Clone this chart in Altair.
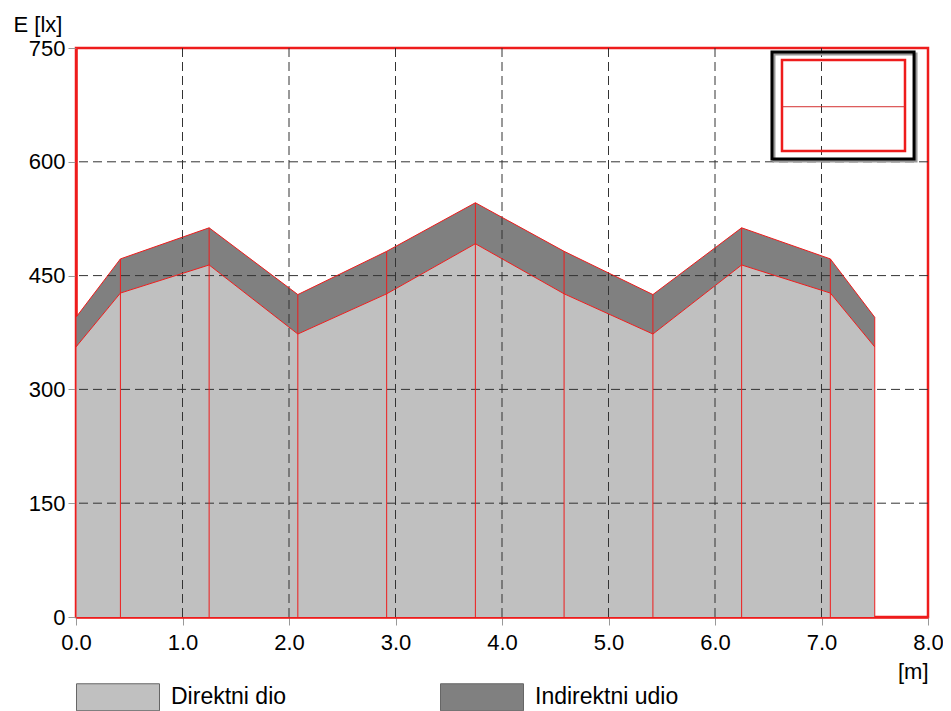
import altair as alt
import pandas as pd

# ---- data ----
x_m = [0.0, 0.417, 1.25, 2.083, 2.917, 3.75, 4.583, 5.417, 6.25, 7.083, 7.5]
direct = [356, 427, 464, 373, 426, 492, 426, 373, 464, 427, 356]
indirect = [39, 45, 49, 52, 56, 54, 56, 52, 49, 45, 39]
series = ["Direktni dio", "Indirektni udio"]
x_ticks = [0, 1, 2, 3, 4, 5, 6, 7, 8]
y_ticks = [0, 150, 300, 450, 600, 750]
x_grid = [1, 2, 3, 4, 5, 6, 7]
y_grid = [150, 300, 450, 600]

# room symbol (inset) in data units
inset_outer = {"x": [6.535], "x2": [7.869], "y": [603.7], "y2": [744.7]}
inset_inner = {"x": [6.629], "x2": [7.784], "y": [614.2], "y2": [734.2]}
inset_mid = {"x": [6.629], "x2": [7.784], "y": [672.6]}

RED = "#ee1c1c"
FONT = "Liberation Sans"

total = [d + i for d, i in zip(direct, indirect)]
df = pd.DataFrame({"x": x_m, "direct": direct, "total": total})
long_df = pd.concat([
    pd.DataFrame({"x": x_m, "series": series[0], "lo": [0] * len(x_m), "hi": direct}),
    pd.DataFrame({"x": x_m, "series": series[1], "lo": direct, "hi": total}),
])

xscale = alt.Scale(domain=[0, 8], nice=False)
yscale = alt.Scale(domain=[0, 750], nice=False)

xaxis = alt.Axis(values=x_ticks, format=".1f", title="[m]", grid=False,
                 titleAlign="right", titleX=852, titleY=61, titleBaseline="alphabetic",
                 labelPadding=7, labelFlush=False)
yaxis = alt.Axis(values=y_ticks, format="d", title="E [lx]", grid=False,
                 titleAngle=0, titleAlign="left", titleX=-63, titleY=-17,
                 titleBaseline="alphabetic", labelPadding=3)

color_scale = alt.Scale(domain=series, range=["#c0c0c0", "#808080"])
legend = alt.Legend(
    orient="none", legendX=0, legendY=607, direction="horizontal", title=None,
    symbolType="M-1,-0.325H1V0.325H-1Z", symbolSize=6889, symbolStrokeWidth=1,
    symbolStrokeColor="#666666", symbolOpacity=1, labelOffset=11, columnPadding=151, padding=0,
    labelFont=FONT, labelFontSize=23, labelColor="black",
)

areas = alt.Chart(long_df).mark_area(opacity=1).encode(
    x=alt.X("x:Q", scale=xscale, axis=xaxis),
    y=alt.Y("hi:Q", scale=yscale, axis=yaxis),
    y2="lo:Q",
    color=alt.Color("series:N", scale=color_scale, legend=legend),
)

base = alt.Chart(df)
grid_x = alt.Chart(pd.DataFrame({"g": x_grid})).mark_rule(
    color="#333333", strokeDash=[9, 5], strokeWidth=1
).encode(x="g:Q")
grid_y = alt.Chart(pd.DataFrame({"g": y_grid})).mark_rule(
    color="#333333", strokeDash=[9, 5], strokeWidth=1
).encode(y="g:Q")

line_total = base.mark_line(color=RED, strokeWidth=1).encode(x="x:Q", y="total:Q")
line_direct = base.mark_line(color=RED, strokeWidth=1).encode(x="x:Q", y="direct:Q")
rules = base.mark_rule(color=RED, strokeWidth=1).encode(x="x:Q", y="total:Q", y2=alt.datum(0))

shadow = alt.Chart(pd.DataFrame(inset_outer)).mark_rect(
    fillOpacity=0, stroke="#999999", strokeWidth=3, xOffset=2, x2Offset=2, yOffset=2, y2Offset=2
).encode(x="x:Q", x2="x2:Q", y="y:Q", y2="y2:Q")
outer = alt.Chart(pd.DataFrame(inset_outer)).mark_rect(
    fillOpacity=0, stroke="black", strokeWidth=3
).encode(x="x:Q", x2="x2:Q", y="y:Q", y2="y2:Q")
inner = alt.Chart(pd.DataFrame(inset_inner)).mark_rect(
    fillOpacity=0, stroke=RED, strokeWidth=2.5
).encode(x="x:Q", x2="x2:Q", y="y:Q", y2="y2:Q")
mid = alt.Chart(pd.DataFrame(inset_mid)).mark_rule(
    color="#d43030", strokeWidth=1
).encode(x="x:Q", x2="x2:Q", y="y:Q")

chart = alt.layer(
    areas, grid_x, grid_y, line_total, line_direct, rules,
    shadow, outer, inner, mid
).properties(
    width=852, height=569,
    autosize=alt.AutoSizeParams(type="none"),
    padding={"left": 68, "top": 40, "right": 15, "bottom": 95},
).configure_view(
    stroke=RED, strokeWidth=2.5
).configure_axis(
    labelFont=FONT, labelFontSize=22, labelColor="black",
    titleFont=FONT, titleFontSize=22, titleFontWeight="normal", titleColor="black",
    tickColor="#999999", tickSize=8, domainColor=RED, domainWidth=2.5, zindex=1,
)

chart.save("out.html", embed_options={"renderer": "svg", "actions": False})
